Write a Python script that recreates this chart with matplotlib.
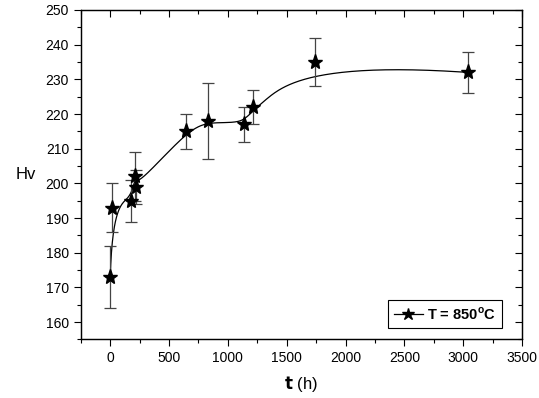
import numpy as np
import matplotlib
matplotlib.use("Agg")
import matplotlib.pyplot as plt
from matplotlib.ticker import MultipleLocator

t_hours = [0, 17, 179, 207, 221, 647, 835, 1138, 1212, 1743, 3037]
hv = [173, 193, 195, 202, 199, 215, 218, 217, 222, 235, 232]
hv_err = [9, 7, 6, 7, 5, 5, 11, 5, 5, 7, 6]
legend_label = r"T = 850$^{\mathrm{o}}$C"

plt.rcParams['font.family'] = ['Liberation Sans', 'DejaVu Sans']
plt.rcParams['mathtext.fontset'] = 'custom'
plt.rcParams['mathtext.rm'] = 'Liberation Sans:bold'


def bspline(ctrl_x, ctrl_y, degree=3, n=600):
    P = np.column_stack([ctrl_x, ctrl_y]).astype(float)
    m = len(P)
    inner = np.linspace(0, 1, m - degree + 1)
    knots = np.concatenate([np.zeros(degree), inner, np.ones(degree)])
    us = np.linspace(0, 1 - 1e-9, n)
    out = []
    for u in us:
        k = np.searchsorted(knots, u, side='right') - 1
        k = min(k, m - 1)
        d = [P[j + k - degree].copy() for j in range(degree + 1)]
        for r in range(1, degree + 1):
            for j in range(degree, r - 1, -1):
                i = j + k - degree
                denom = knots[i + degree - r + 1] - knots[i]
                a = 0 if denom == 0 else (u - knots[i]) / denom
                d[j] = (1 - a) * d[j - 1] + a * d[j]
        out.append(d[degree])
    out.append(P[-1])
    out = np.array(out)
    return out[:, 0], out[:, 1]


fig = plt.figure(figsize=(5.39, 3.98), dpi=100)
ax = fig.add_axes([0.150, 0.147, 0.8185, 0.828])

cx, cy = bspline(t_hours, hv)
ax.plot(cx, cy, color='black', lw=0.9, zorder=2)
ax.errorbar(t_hours, hv, yerr=hv_err, fmt='none', ecolor='#444444',
            elinewidth=0.9, capsize=4, capthick=0.9, zorder=3)
ax.plot(t_hours, hv, linestyle='none', marker='*', color='black',
        markersize=11, zorder=4)

# legend proxy
ax.plot([], [], color='black', lw=0.9, marker='*', markersize=9,
        label=legend_label)
leg = ax.legend(loc='lower right', bbox_to_anchor=(0.955, 0.035),
                borderaxespad=0, fancybox=False, edgecolor='black',
                framealpha=1, handlelength=2.0, handletextpad=0.3,
                borderpad=0.4, prop={'weight': 'bold', 'size': 10.5})
leg.get_frame().set_linewidth(0.8)

ax.set_xlim(-250, 3500)
ax.set_ylim(155, 250)
ax.xaxis.set_major_locator(MultipleLocator(500))
ax.xaxis.set_minor_locator(MultipleLocator(250))
ax.yaxis.set_major_locator(MultipleLocator(10))
ax.yaxis.set_minor_locator(MultipleLocator(5))

ax.tick_params(which='both', labelsize=10, direction='out')
ax.tick_params(which='major', length=5, width=0.8)
ax.tick_params(which='minor', length=3, width=0.8)
for sp in ax.spines.values():
    sp.set_linewidth(0.9)

# inward ticks on top and right
ax2 = ax.twinx()
ax2.set_ylim(ax.get_ylim())
ax2.yaxis.set_major_locator(MultipleLocator(10))
ax2.yaxis.set_minor_locator(MultipleLocator(5))
ax2.tick_params(axis='y', which='both', direction='in', labelright=False)
ax2.tick_params(which='major', length=5, width=0.8)
ax2.tick_params(which='minor', length=3, width=0.8)
ax3 = ax.twiny()
ax3.set_xlim(ax.get_xlim())
ax3.xaxis.set_major_locator(MultipleLocator(500))
ax3.xaxis.set_minor_locator(MultipleLocator(250))
ax3.tick_params(axis='x', which='both', direction='in', labeltop=False)
ax3.tick_params(which='major', length=5, width=0.8)
ax3.tick_params(which='minor', length=3, width=0.8)

ax.set_xlabel(r"$\mathbf{t}$ (h)", fontsize=12, labelpad=6)
ax.set_ylabel("Hv", fontsize=12, rotation=0, labelpad=14, va='center')

fig.savefig("out.png", dpi=100)
